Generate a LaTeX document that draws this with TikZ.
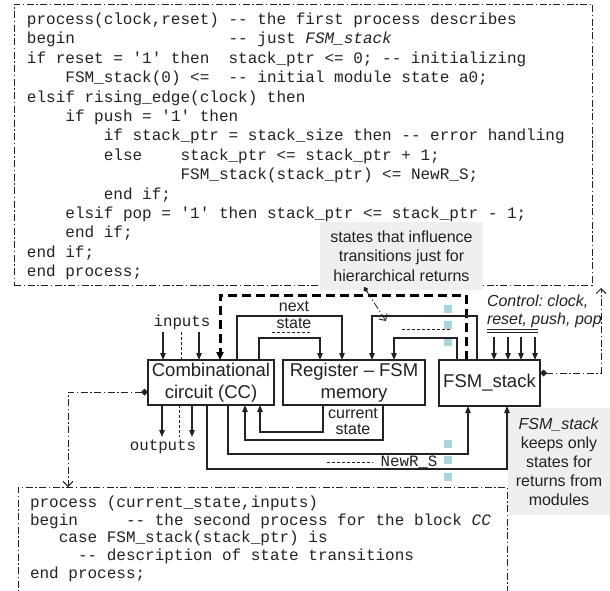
\documentclass[tikz,border=0pt]{standalone}
\usepackage{fontspec}
\setmainfont{Liberation Sans}
\setmonofont{Liberation Mono}
\usetikzlibrary{arrows.meta}
\definecolor{inkc}{HTML}{222222}
\definecolor{cyanc}{HTML}{A8D6DA}
\definecolor{grayc}{HTML}{EFEFEF}
\frenchspacing
\begin{document}
\begin{tikzpicture}[x=1pt,y=-1pt,
 every node/.style={inner sep=0pt, outer sep=0pt, text=inkc},
 blk/.style={draw=inkc, line width=1.1pt, anchor=north west, align=center, font=\fontsize{18.5}{22}\selectfont},
 wire/.style={draw=inkc, line width=1.1pt},
 arr/.style={wire, -{Triangle[length=7pt,width=5.5pt]}},
 thickdash/.style={draw=black, line width=3pt, dash pattern=on 9pt off 5pt, -{Triangle[length=8pt,width=7pt]}},
 dashdot/.style={draw=inkc, line width=0.8pt, dash pattern=on 7pt off 2.5pt on 1.5pt off 2.5pt},
 ddtips/.style={{Diamond[length=7pt,width=7pt]}-{Straight Barb[length=5pt,width=10pt,line width=0.9pt]}},
 code/.style={anchor=base west, font=\ttfamily\fontsize{16}{19.4}\selectfont},
 lab/.style={font=\fontsize{16}{19}\selectfont},
 mono/.style={font=\ttfamily\fontsize{15.8}{19}\selectfont},
 thindash/.style={draw=inkc, line width=0.8pt, dash pattern=on 3pt off 2pt}
]
\useasboundingbox (0,0) rectangle (610,591);
\fill[white] (0,0) rectangle (610,591);
\clip (0,0) rectangle (610,591);

% top code box
\node[dashdot, draw, anchor=north west, minimum width=578pt, minimum height=281pt] (topbox) at (14,4) {};
\node[code] (t1) at (27,24.5) {process(clock,reset) -- the first process describes};
\node[code] (t2) at (27,43.9) {begin~~~~~~~~~~~~~~~~-- just \textit{FSM\_stack}};
\node[code] (t3) at (27,63.3) {if reset = '1' then~~stack\_ptr <= 0; -- initializing};
\node[code] (t4) at (27,82.7) {~~~~FSM\_stack(0) <=~~-- initial module state a0;};
\node[code] (t5) at (27,102.1) {elsif rising\_edge(clock) then};
\node[code] (t6) at (27,121.5) {~~~~if push = '1' then};
\node[code] (t7) at (27,140.9) {~~~~~~~~if stack\_ptr = stack\_size then -- error handling};
\node[code] (t8) at (27,160.3) {~~~~~~~~else~~~~stack\_ptr <= stack\_ptr + 1;};
\node[code] (t9) at (27,179.7) {~~~~~~~~~~~~~~~~FSM\_stack(stack\_ptr) <= NewR\_S;};
\node[code] (t10) at (27,199.1) {~~~~~~~~end if;};
\node[code] (t11) at (27,218.5) {~~~~elsif pop = '1' then stack\_ptr <= stack\_ptr - 1;};
\node[code] (t12) at (27,237.9) {~~~~end if;};
\node[code] (t13) at (27,257.3) {end if;};
\node[code] (t14) at (27,276.0) {end process;};

% callout 1
\node[fill=grayc, minimum width=163pt, minimum height=68pt, align=center, font=\fontsize{16}{19.5}\selectfont] (call1) at (401.5,256) {states that influence\\transitions just for\\hierarchical returns};

% bottom code box
\node[dashdot, draw, anchor=north west, minimum width=489pt, minimum height=130pt] (botbox) at (18,487) {};
\node[code] (b1) at (30,507.5) {process (current\_state,inputs)};
\node[code] (b2) at (30,525.2) {begin~~~~~-- the second process for the block \textit{CC}};
\node[code] (b3) at (30,542.9) {~~~case FSM\_stack(stack\_ptr) is};
\node[code] (b4) at (30,560.6) {~~~~~-- description of state transitions};
\node[code] (b5) at (30,578.3) {end process;};

% callout 2
\node[fill=grayc, minimum width=103pt, minimum height=107pt, align=center, font=\fontsize{16}{19}\selectfont] (call2) at (559,461.5) {\textit{FSM\_stack}\\keeps only\\states for\\returns from\\modules};

% blocks
\node[blk, minimum width=126pt, minimum height=45pt] (cc) at (148,360) {Combinational\\circuit (CC)};
\node[blk, minimum width=142pt, minimum height=45pt] (reg) at (283,360) {Register – FSM\\memory};
\node[blk, minimum width=101pt, minimum height=46pt] (stk) at (439,360) {FSM\_stack};

% cyan markers
\fill[cyanc] (444,305) rectangle (452,313);
\fill[cyanc] (444,321) rectangle (452,329);
\fill[cyanc] (444,338) rectangle (452,346);
\fill[cyanc] (444,440) rectangle (452,448);
\fill[cyanc] (444,456) rectangle (452,464);
\fill[cyanc] (444,473) rectangle (452,481);

% thick dashed path (stack top into CC)
\draw[thickdash] ([xshift=27pt]stk.north west) -- ++(0,-65) -| ([xshift=72pt]cc.north west);

% next state connectors
\draw[arr] ([xshift=89pt]cc.north west) -- ++(0,-44) -| ([xshift=59pt]reg.north west);
\draw[arr] ([xshift=111pt]cc.north west) -- ++(0,-22) -| ([xshift=37pt]reg.north west);
\draw[arr] ([xshift=38pt]stk.north west) -- ++(0,-44) -| ([xshift=89pt]reg.north west);
\draw[arr] ([xshift=18pt]stk.north west) -- ++(0,-22) -| ([xshift=111pt]reg.north west);
\draw[thindash] (402,329) -- (451,329);

% current state connectors
\draw[arr] ([xshift=40pt]reg.south west) -- ++(0,27) -| ([xshift=112pt]cc.south west);
\draw[arr] ([xshift=100pt]reg.south west) -- ++(0,35) -| ([xshift=97pt]cc.south west);

% to FSM_stack
\draw[arr] ([xshift=80pt]cc.south west) -- ++(0,49) -| ([xshift=29pt]stk.south west);
\draw[arr] ([xshift=59pt]cc.south west) -- ++(0,64) -| ([xshift=68pt]stk.south west);

% labels
\node[lab] (nxt) at (294,306) {next};
\node[lab] (nst) at (294,323) {state};
\draw[thindash] (272,332) -- (312,332);
\node[lab] (cur1) at (353,413) {current};
\node[lab] (cur2) at (353,429) {state};
\node[mono] (nrs) at (409,462) {NewR\_S};
\draw[thindash] (327,462) -- (373,462);

% inputs
\node[mono] (inp) at (182,322) {inputs};
\coordinate (in1) at (163,332);
\coordinate (in2) at (199,332);
\coordinate (in3) at (181,332);
\draw[arr] (in1) -- (in1 |- cc.north);
\draw[arr] (in2) -- (in2 |- cc.north);
\draw[thindash] (in3) -- (in3 |- cc.north);

% outputs
\node[mono] (outp) at (163,447) {outputs};
\coordinate (o1) at (162,437);
\coordinate (o2) at (192,437);
\coordinate (o3) at (179,437);
\draw[arr] (o1 |- cc.south) -- (o1);
\draw[arr] (o2 |- cc.south) -- (o2);
\draw[thindash] (o3 |- cc.south) -- (o3);

% control
\node[font=\itshape\fontsize{16}{18}\selectfont, align=left, anchor=north west] (ctrl) at (487,295) {Control: clock,\\reset, push, pop};
\draw[inkc, line width=0.8pt] (487,329) -- (538,329);
\draw[inkc, line width=0.8pt] (487,332) -- (538,332);
\coordinate (k1) at (494,337);
\coordinate (k2) at (508,337);
\coordinate (k3) at (521,337);
\coordinate (k4) at (535,337);
\foreach \k in {k1,k2,k3,k4} \draw[arr] (\k) -- (\k |- stk.north);

% dash-dot references
\coordinate (tbin) at (601,288);
\coordinate (bbin) at (68,487);
\draw[dashdot, ddtips] ([yshift=-13pt]stk.north east) -| (tbin);
\draw[dashdot, ddtips] ([yshift=-32pt]cc.north west) -| (bbin);
\coordinate (co1) at (364,287);
\coordinate (co2) at (386,321);
\draw[dashdot, {Diamond[length=6pt,width=5pt]}-{Straight Barb[length=5pt,width=10pt,line width=0.9pt]}] (co1) -- (co2);
\end{tikzpicture}
\end{document}
